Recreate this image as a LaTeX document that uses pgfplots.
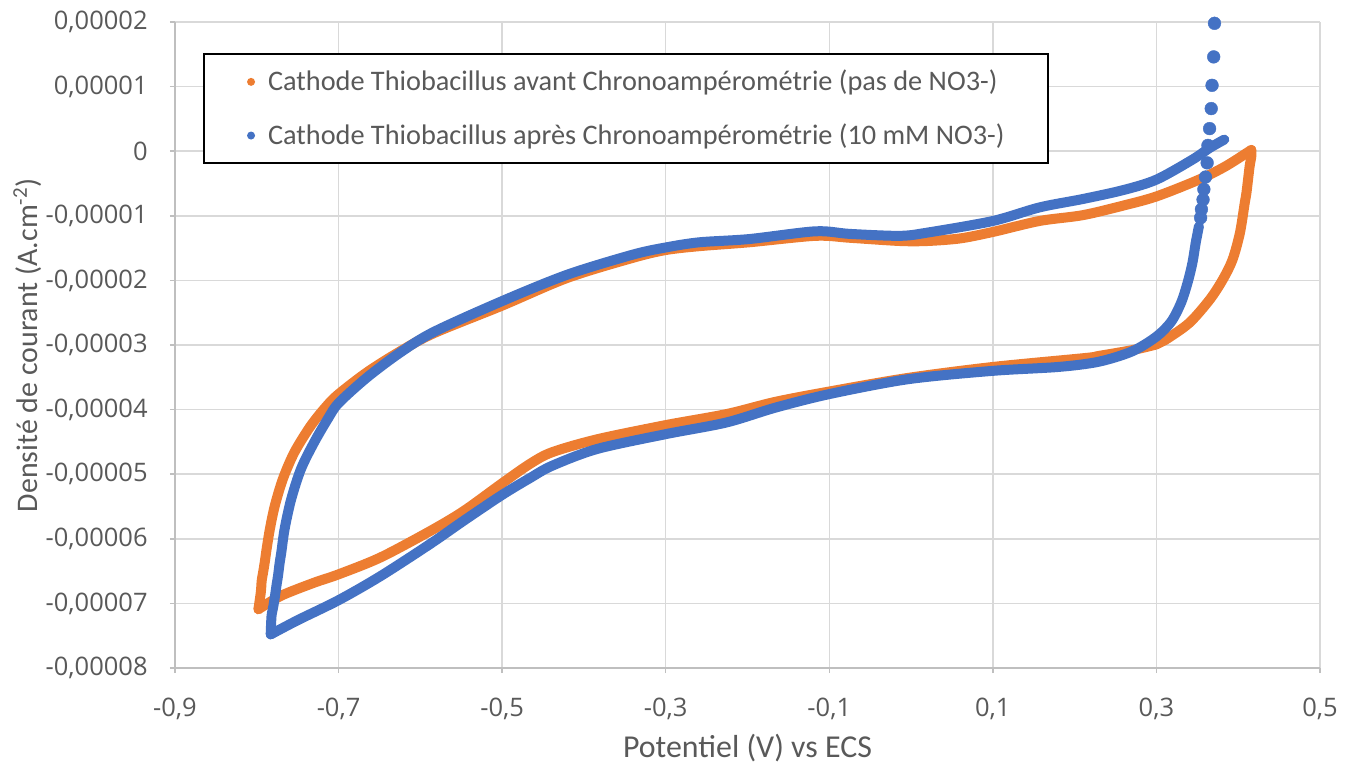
\documentclass[border=0pt]{standalone}
\usepackage{pgfplots}
\pgfplotsset{compat=1.18}
\usepackage{fontspec}
\setmainfont{Carlito}
\newfontfamily\tickfont{Open Sans}
\definecolor{cOrange}{HTML}{ED7D31}
\definecolor{cBlue}{HTML}{4472C4}
\definecolor{cGrid}{HTML}{D9D9D9}
\definecolor{cAxis}{HTML}{BFBFBF}
\definecolor{cText}{HTML}{595959}

\begin{document}
\begin{tikzpicture}
\begin{axis}[
  at={(0,0)}, anchor=south west,
  scale only axis, width=572.5bp, height=323bp,
  xmin=-0.9, xmax=0.5, ymin=-0.00008, ymax=0.00002,
  xtick={-0.9,-0.7,-0.5,-0.3,-0.1,0.1,0.3,0.5},
  xticklabels={{-0,9},{-0,7},{-0,5},{-0,3},{-0,1},{0,1},{0,3},{0,5}},
  ytick={-8e-5,-7e-5,-6e-5,-5e-5,-4e-5,-3e-5,-2e-5,-1e-5,0,1e-5,2e-5},
  yticklabels={{-0,00008},{-0,00007},{-0,00006},{-0,00005},{-0,00004},{-0,00003},{-0,00002},{-0,00001},{0},{0,00001},{0,00002}},
  scaled x ticks=false, scaled y ticks=false,
  axis x line*=bottom, axis y line*=left,
  axis line style={cAxis, line width=0.75bp},
  grid=major, major grid style={cGrid, line width=0.75bp},
  tick align=outside, major tick length=2.5bp,
  tick style={cAxis, line width=0.75bp},
  ticklabel style={font=\tickfont\fontsize{12.8}{15}\selectfont, text=cText, inner sep=0pt},
  yticklabel style={anchor=east, xshift=-11bp},
  xticklabel style={anchor=north, yshift=-12.5bp},
  xlabel={Potentiel (V) vs ECS},
  ylabel={Densité de courant (A.cm\textsuperscript{-2})},
  label style={text=cText},
  xlabel style={font=\fontsize{16}{19}\selectfont, at={(axis description cs:0.5,-0.1238)}, anchor=center},
  ylabel style={font=\fontsize{15}{18}\selectfont, at={(axis description cs:-0.129,0.5)}, anchor=center},
  clip=false,
  legend image code/.code={\fill[draw=none] (0pt,0pt) circle (2bp);},
  legend cell align=left,
  legend style={at={(rel axis cs:0.0245,0.952)}, anchor=north west,
    draw=black, line width=1bp, fill=white,
    font=\fontsize{14.2}{17}\selectfont, text=cText,
    inner xsep=21.5bp, inner ysep=8bp, row sep=15bp,
    nodes={inner sep=0pt},
    /tikz/every odd column/.append style={column sep=6.5bp}},
  band/.style={line width=5bp, line join=round, line cap=round, smooth},
]

% avant chronoamperometrie (pas de NO3-) : aller
\addplot[cOrange, band] table {
x y
-0.798 -7.09e-5
-0.795 -6.82e-5
-0.794 -6.65e-5
-0.792 -6.50e-5
-0.790 -6.34e-5
-0.788 -6.16e-5
-0.784 -5.85e-5
-0.778 -5.49e-5
-0.768 -5.07e-5
-0.754 -4.66e-5
-0.734 -4.25e-5
-0.715 -3.95e-5
-0.700 -3.76e-5
-0.665 -3.42e-5
-0.625 -3.10e-5
-0.584 -2.82e-5
-0.500 -2.39e-5
-0.420 -1.96e-5
-0.340 -1.65e-5
-0.300 -1.53e-5
-0.259 -1.47e-5
-0.198 -1.41e-5
-0.117 -1.31e-5
-0.075 -1.34e-5
-0.014 -1.39e-5
0.020 -1.39e-5
0.060 -1.35e-5
0.100 -1.25e-5
0.157 -1.08e-5
0.210 -0.99e-5
0.260 -0.84e-5
0.300 -0.70e-5
0.352 -0.44e-5
0.385 -0.23e-5
0.416 0.02e-5
};
\addlegendentry{Cathode Thiobacillus avant Chronoampérométrie (pas de NO3-)}
% retour
\addplot[cOrange, band, forget plot] table {
x y
0.416 0.02e-5
0.416 -0.08e-5
0.414 -0.23e-5
0.412 -0.44e-5
0.410 -0.65e-5
0.408 -0.80e-5
0.402 -1.27e-5
0.393 -1.68e-5
0.381 -1.99e-5
0.365 -2.30e-5
0.340 -2.66e-5
0.311 -2.92e-5
0.300 -2.99e-5
0.270 -3.08e-5
0.229 -3.17e-5
0.214 -3.20e-5
0.100 -3.34e-5
-0.004 -3.51e-5
-0.100 -3.72e-5
-0.166 -3.88e-5
-0.226 -4.07e-5
-0.300 -4.24e-5
-0.384 -4.46e-5
-0.439 -4.66e-5
-0.466 -4.84e-5
-0.500 -5.14e-5
-0.547 -5.57e-5
-0.588 -5.88e-5
-0.649 -6.29e-5
-0.700 -6.55e-5
-0.730 -6.68e-5
-0.770 -6.88e-5
-0.798 -7.09e-5
};

% apres chronoamperometrie (10 mM NO3-) : retour
\addplot[cBlue, band] table {
x y
0.352 -1.16e-5
0.348 -1.42e-5
0.344 -1.73e-5
0.338 -2.04e-5
0.330 -2.35e-5
0.318 -2.64e-5
0.300 -2.87e-5
0.270 -3.10e-5
0.229 -3.26e-5
0.180 -3.34e-5
0.100 -3.40e-5
-0.004 -3.53e-5
-0.100 -3.76e-5
-0.166 -3.97e-5
-0.226 -4.20e-5
-0.300 -4.38e-5
-0.384 -4.61e-5
-0.439 -4.87e-5
-0.466 -5.06e-5
-0.500 -5.32e-5
-0.547 -5.72e-5
-0.588 -6.08e-5
-0.649 -6.58e-5
-0.700 -6.95e-5
-0.750 -7.26e-5
-0.783 -7.48e-5
};
\addlegendentry{Cathode Thiobacillus après Chronoampérométrie (10 mM NO3-)}
% aller
\addplot[cBlue, band, forget plot] table {
x y
-0.783 -7.48e-5
-0.782 -7.20e-5
-0.780 -7.06e-5
-0.778 -6.91e-5
-0.776 -6.73e-5
-0.774 -6.57e-5
-0.772 -6.37e-5
-0.770 -6.21e-5
-0.766 -5.85e-5
-0.758 -5.39e-5
-0.746 -4.92e-5
-0.730 -4.51e-5
-0.713 -4.14e-5
-0.700 -3.90e-5
-0.665 -3.50e-5
-0.625 -3.12e-5
-0.584 -2.80e-5
-0.500 -2.32e-5
-0.420 -1.91e-5
-0.340 -1.60e-5
-0.300 -1.49e-5
-0.259 -1.41e-5
-0.198 -1.36e-5
-0.117 -1.24e-5
-0.075 -1.28e-5
-0.014 -1.31e-5
0.020 -1.26e-5
0.100 -1.08e-5
0.157 -0.87e-5
0.210 -0.74e-5
0.260 -0.60e-5
0.300 -0.44e-5
0.344 -0.13e-5
0.365 0.05e-5
0.383 0.18e-5
};

% premiers points isoles
\addplot[cBlue, only marks, mark=*, mark size=3.2bp, line width=0.2bp, forget plot] table {
x y
0.371 1.98e-5
0.370 1.46e-5
0.368 1.02e-5
0.367 0.66e-5
0.365 0.35e-5
0.363 0.09e-5
0.362 -0.18e-5
0.360 -0.40e-5
0.358 -0.59e-5
0.357 -0.75e-5
0.355 -0.90e-5
0.354 -1.03e-5
};

\end{axis}
\pgfresetboundingbox
\useasboundingbox (-87.5bp,-48bp) rectangle (589.5bp,334bp);
\end{tikzpicture}
\end{document}
